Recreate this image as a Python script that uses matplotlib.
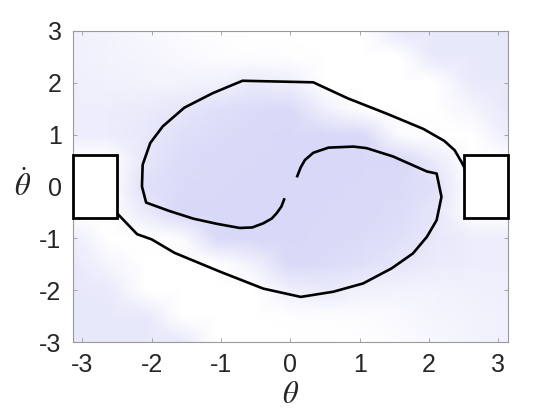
import numpy as np
import matplotlib
matplotlib.use("Agg")
import matplotlib.pyplot as plt
from matplotlib.colors import LinearSegmentedColormap
from matplotlib.patches import Rectangle

plt.rcParams['font.family'] = ['Liberation Sans', 'DejaVu Sans']
plt.rcParams['mathtext.fontset'] = 'stix'
plt.rcParams['axes.unicode_minus'] = False

# grid nodes of the shaded background (theta, theta_dot)
theta_nodes = [-3.14, -2.62, -2.09, -1.57, -1.05, -0.52, 0.0, 0.52, 1.05, 1.57, 2.09, 2.62, 3.14]
thetadot_nodes = [-3.0, -2.5, -2.0, -1.5, -1.0, -0.5, 0.0, 0.5, 1.0, 1.5, 2.0, 2.5, 3.0]

# shading level at each node, rows from thetadot=-3 up to 3 (0 = white, 1 = darkest)
shade = [
    [0.60, 0.60, 0.60, 0.60, 0.00, 0.00, 0.00, 0.00, 0.02, 0.08, 0.20, 0.30, 0.35],
    [0.60, 0.60, 0.60, 0.00, 0.00, 0.00, 0.02, 0.05, 0.08, 0.15, 0.25, 0.30, 0.35],
    [0.60, 0.55, 0.00, 0.00, 0.00, 0.00, 0.40, 0.55, 0.35, 0.30, 0.30, 0.35, 0.40],
    [0.60, 0.25, 0.00, 0.00, 0.00, 0.35, 0.95, 0.90, 0.80, 0.65, 0.50, 0.45, 0.45],
    [0.45, 0.00, 0.00, 0.10, 0.95, 1.00, 1.00, 0.95, 0.90, 0.80, 0.60, 0.45, 0.45],
    [0.00, 0.00, 0.55, 1.00, 1.00, 1.00, 1.00, 0.98, 0.95, 0.90, 0.65, 0.00, 0.00],
    [0.00, 0.00, 0.80, 0.92, 0.96, 1.00, 1.00, 1.00, 0.96, 0.92, 0.80, 0.00, 0.00],
    [0.00, 0.00, 0.65, 0.90, 0.95, 0.98, 1.00, 1.00, 1.00, 1.00, 0.55, 0.00, 0.00],
    [0.45, 0.45, 0.60, 0.80, 0.90, 0.95, 1.00, 1.00, 0.95, 0.10, 0.00, 0.00, 0.45],
    [0.45, 0.45, 0.50, 0.65, 0.80, 0.90, 0.95, 0.35, 0.00, 0.00, 0.00, 0.25, 0.60],
    [0.40, 0.35, 0.30, 0.30, 0.35, 0.55, 0.40, 0.00, 0.00, 0.00, 0.00, 0.55, 0.60],
    [0.35, 0.30, 0.25, 0.15, 0.08, 0.05, 0.02, 0.00, 0.00, 0.00, 0.60, 0.60, 0.60],
    [0.35, 0.30, 0.20, 0.08, 0.02, 0.00, 0.00, 0.00, 0.00, 0.60, 0.60, 0.60, 0.60],
]

# trajectory starting near the right goal box
traj1_theta = [2.57, 2.47, 2.37, 2.22, 1.92, 1.40, 0.83, 0.33, -0.69, -1.12, -1.53, -1.84,
               -2.02, -2.13, -2.14, -2.08, -1.75, -1.40, -1.06, -0.73, -0.55, -0.39, -0.27,
               -0.20, -0.13, -0.09]
traj1_thetadot = [0.21, 0.47, 0.70, 0.88, 1.11, 1.40, 1.70, 2.01, 2.04, 1.80, 1.52, 1.16,
                  0.84, 0.42, 0.00, -0.31, -0.47, -0.62, -0.72, -0.80, -0.79, -0.71, -0.62,
                  -0.52, -0.39, -0.25]

# trajectory starting near the left goal box
traj2_theta = [-2.59, -2.21, -2.00, -1.67, -1.02, -0.39, 0.15, 0.62, 1.05, 1.46, 1.77, 1.97,
               2.11, 2.18, 2.11, 1.97, 1.48, 1.10, 0.91, 0.55, 0.33, 0.21, 0.15, 0.10]
traj2_thetadot = [-0.39, -0.92, -1.02, -1.28, -1.64, -1.97, -2.13, -2.03, -1.87, -1.58, -1.29, -0.97,
                  -0.65, -0.20, 0.25, 0.29, 0.58, 0.74, 0.77, 0.75, 0.65, 0.51, 0.37, 0.20]

# goal regions: (theta_min, theta_max, thetadot_min, thetadot_max)
goal_boxes = [(-3.14, -2.5, -0.6, 0.6), (2.5, 3.14, -0.6, 0.6)]

fig = plt.figure(figsize=(5.6, 4.2), dpi=100)
ax = fig.add_axes([0.1297, 0.1857, 0.7775, 0.7405])

cmap = LinearSegmentedColormap.from_list('lav', ['#ffffff', '#d8d8f8'])
T, TD = np.meshgrid(theta_nodes, thetadot_nodes)
ax.pcolormesh(T, TD, np.array(shade), shading='gouraud', cmap=cmap, vmin=0, vmax=1, zorder=0)

ax.plot(traj1_theta, traj1_thetadot, color='black', lw=1.9, solid_joinstyle='round', zorder=2)
ax.plot(traj2_theta, traj2_thetadot, color='black', lw=1.9, solid_joinstyle='round', zorder=2)

for x0, x1, y0, y1 in goal_boxes:
    ax.add_patch(Rectangle((x0, y0), x1 - x0, y1 - y0, facecolor='white', edgecolor='black',
                           lw=2.0, zorder=3, clip_on=False))

ax.set_xlim(-3.14, 3.14)
ax.set_ylim(-3, 3)
ax.set_xticks([-3, -2, -1, 0, 1, 2, 3])
ax.set_yticks([-3, -2, -1, 0, 1, 2, 3])
ax.tick_params(direction='in', length=3, width=0.6, color='#9a9a9a', top=True, right=True,
               labelsize=18, labelcolor='#262626', pad=8)
for s in ax.spines.values():
    s.set_color('#9a9a9a')
    s.set_linewidth(0.8)

ax.set_xlabel(r'$\theta$', fontsize=22, labelpad=2, color='#262626')
ax.set_ylabel(r'$\dot{\theta}$', fontsize=22, rotation=0, labelpad=12, va='center', color='#262626')

fig.savefig('out.png', dpi=100)
